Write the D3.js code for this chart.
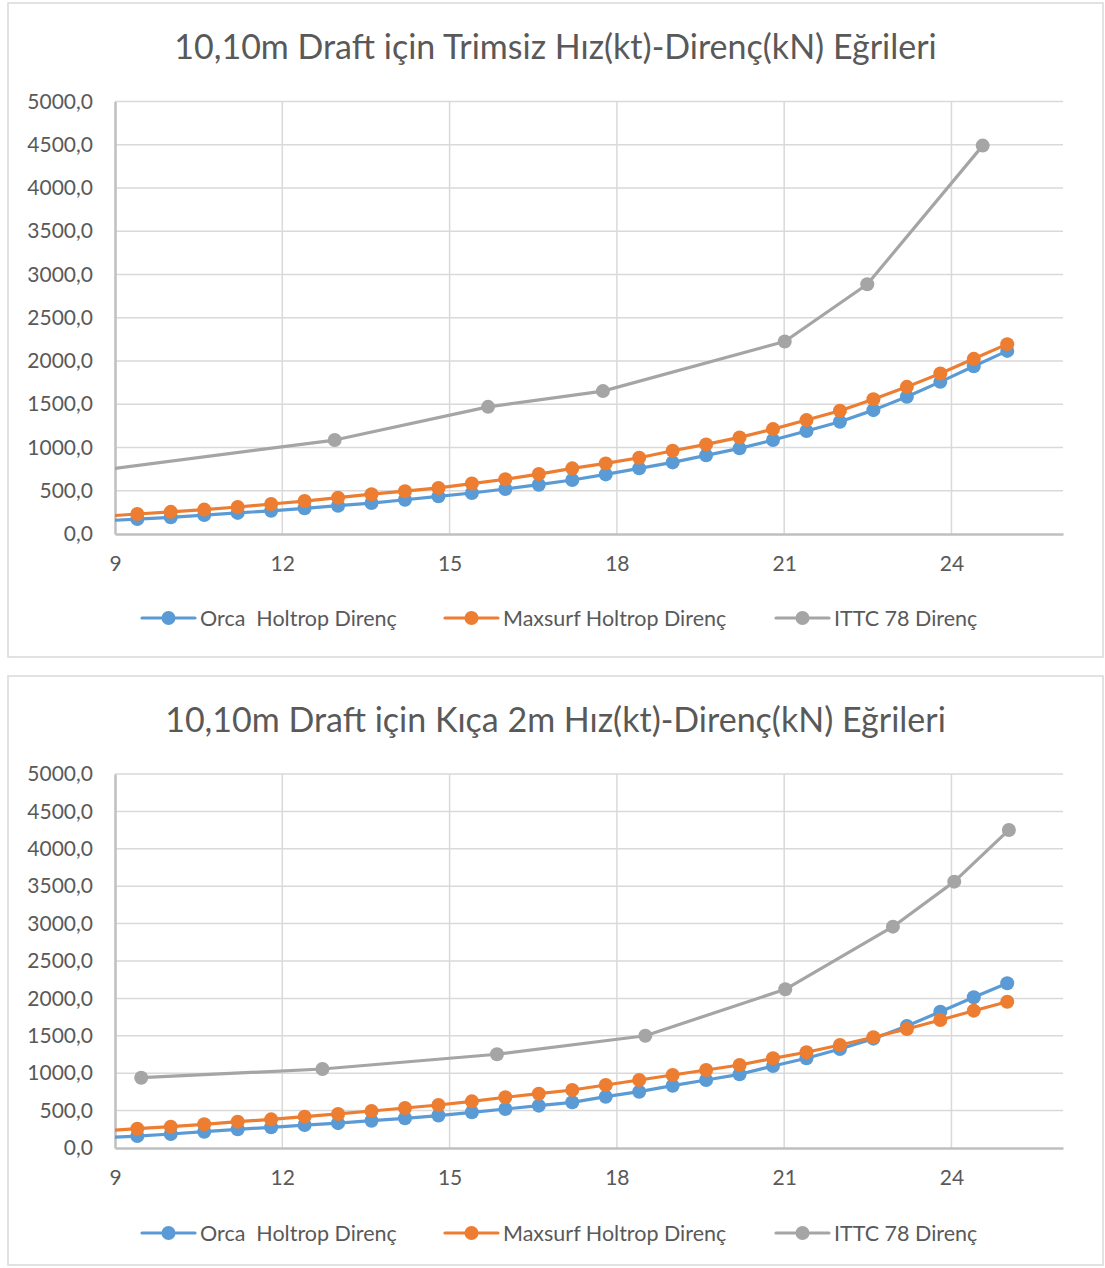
<!DOCTYPE html>
<html>
<head>
<meta charset="utf-8">
<script src="https://cdn.jsdelivr.net/npm/d3@7"></script>
<style>
  html, body { margin: 0; padding: 0; background: #ffffff; }
  svg { display: block; }
  text { font-family: Lato, "Open Sans", "Noto Sans", sans-serif; fill: #595959; white-space: pre; }
</style>
</head>
<body>
<svg id="chart" width="1105" height="1268"></svg>
<script>
// Speeds (kt) at which the Holtrop resistance was computed
const holtropSpeeds = [8.8, 9.4, 10.0, 10.6, 11.2, 11.8, 12.4, 13.0, 13.6, 14.2, 14.8, 15.4, 16.0, 16.6,
                       17.2, 17.8, 18.4, 19.0, 19.6, 20.2, 20.8, 21.4, 22.0, 22.6, 23.2, 23.8, 24.4, 25.0];

// Even keel (trimsiz) — resistance in kN
const trimsizOrca    = [152, 173, 193, 219, 244, 268, 297, 327, 358, 396, 435, 474, 520, 570,
                        624, 689, 759, 828, 909, 990, 1086, 1190, 1297, 1432, 1586, 1759, 1940, 2117];
const trimsizMaxsurf = [205, 231, 256, 282, 312, 347, 381, 420, 460, 495, 533, 583, 633, 693,
                        759, 816, 881, 962, 1036, 1117, 1213, 1317, 1424, 1559, 1701, 1856, 2025, 2195];
const trimsizIttcSpeeds = [8.5, 12.94, 15.69, 17.75, 21.01, 22.49, 24.56];
const trimsizIttc       = [717, 1086, 1470, 1652, 2226, 2887, 4490];

// 2 m trim by stern (kıça 2m) — resistance in kN
const kicaOrca    = [140, 160, 187, 218, 250, 277, 307, 332, 365, 397, 434, 477, 521, 566,
                     611, 686, 753, 833, 909, 985, 1096, 1199, 1324, 1462, 1631, 1822, 2015, 2202];
const kicaMaxsurf = [228, 258, 285, 317, 352, 383, 419, 455, 495, 535, 575, 624, 678, 726,
                     775, 842, 909, 976, 1043, 1110, 1199, 1280, 1377, 1480, 1591, 1711, 1836, 1956];
const kicaIttcSpeeds = [9.47, 12.72, 15.85, 18.51, 21.02, 22.95, 24.05, 25.03];
const kicaIttc       = [940, 1056, 1253, 1501, 2122, 2959, 3561, 4252];

// Axis ticks and labels
const xTicks = [9, 12, 15, 18, 21, 24];
const yTicks = [0, 500, 1000, 1500, 2000, 2500, 3000, 3500, 4000, 4500, 5000];
const seriesNames = ["Orca  Holtrop Direnç", "Maxsurf Holtrop Direnç", "ITTC 78 Direnç"];
const seriesColors = ["#5B9BD5", "#ED7D31", "#A5A5A5"];
const titles = [
  "10,10m Draft için Trimsiz Hız(kt)-Direnç(kN) Eğrileri",
  "10,10m Draft için Kıça 2m Hız(kt)-Direnç(kN) Eğrileri"
];

const trFormat = d3.formatLocale({ decimal: ",", thousands: ".", grouping: [3], currency: ["", "₺"] }).format(".1f");

const svg = d3.select("#chart");

function drawChart(idx, layout, series) {
  const g = svg.append("g");
  const { frame, plot } = layout;

  g.append("rect")
    .attr("x", frame.x).attr("y", frame.y)
    .attr("width", frame.w).attr("height", frame.h)
    .attr("fill", "#ffffff").attr("stroke", "#D9D9D9").attr("stroke-width", 1.5);

  g.append("text")
    .attr("x", frame.x + frame.w / 2).attr("y", layout.titleBaseline)
    .attr("text-anchor", "middle")
    .style("font-size", "34px")
    .text(titles[idx]);

  const x = d3.scaleLinear().domain([9, 26]).range([plot.left, plot.right]);
  const y = d3.scaleLinear().domain([0, 5000]).range([plot.bottom, plot.top]);

  // gridlines
  g.append("g").selectAll("line").data(yTicks.filter(v => v > 0)).join("line")
    .attr("x1", plot.left).attr("x2", plot.right)
    .attr("y1", d => y(d)).attr("y2", d => y(d))
    .attr("stroke", "#D9D9D9").attr("stroke-width", 1.5);
  g.append("g").selectAll("line").data(xTicks.filter(v => v > 9)).join("line")
    .attr("x1", d => x(d)).attr("x2", d => x(d))
    .attr("y1", plot.top).attr("y2", plot.bottom)
    .attr("stroke", "#D9D9D9").attr("stroke-width", 1.5);

  // axes
  const yAxis = g.append("g").attr("transform", `translate(${plot.left},0)`)
    .call(d3.axisLeft(y).tickValues(yTicks).tickFormat(trFormat).tickSize(0).tickPadding(22));
  const xAxis = g.append("g").attr("transform", `translate(0,${plot.bottom})`)
    .call(d3.axisBottom(x).tickValues(xTicks).tickFormat(d3.format("d")).tickSize(0).tickPadding(layout.xPad));
  [yAxis, xAxis].forEach(a => {
    a.select(".domain").attr("stroke", "#BFBFBF").attr("stroke-width", 2.5);
    a.selectAll("text").style("font-size", "21px").attr("fill", "#595959")
      .style("font-family", "Lato, 'Open Sans', sans-serif");
  });

  // data
  const clipId = "plot-clip-" + idx;
  g.append("clipPath").attr("id", clipId).append("rect")
    .attr("x", plot.left).attr("y", plot.top - 10)
    .attr("width", plot.right - plot.left + 10).attr("height", plot.bottom - plot.top + 10);

  const dataG = g.append("g").attr("clip-path", `url(#${clipId})`);
  const line = d3.line().x(d => x(d[0])).y(d => y(d[1]));

  series.forEach((s, i) => {
    const pts = s.xs.map((v, k) => [v, s.ys[k]]);
    const sg = dataG.append("g");
    sg.append("path").datum(pts)
      .attr("d", line).attr("fill", "none")
      .attr("stroke", seriesColors[i]).attr("stroke-width", 3.2)
      .attr("stroke-linejoin", "round").attr("stroke-linecap", "round");
    sg.selectAll("circle").data(pts).join("circle")
      .attr("cx", d => x(d[0])).attr("cy", d => y(d[1])).attr("r", 7)
      .attr("fill", seriesColors[i]);
  });

  // legend
  const legendX = [142, 445, 776];
  const lg = g.append("g").attr("transform", `translate(0,${layout.legendY})`);
  seriesNames.forEach((name, i) => {
    const item = lg.append("g").attr("transform", `translate(${legendX[i]},0)`);
    item.append("line").attr("x1", 0).attr("x2", 53).attr("y1", 0).attr("y2", 0)
      .attr("stroke", seriesColors[i]).attr("stroke-width", 3.2).attr("stroke-linecap", "round");
    item.append("circle").attr("cx", 26.5).attr("cy", 0).attr("r", 7).attr("fill", seriesColors[i]);
    item.append("text").attr("x", 58).attr("y", 0).attr("dy", "0.35em")
      .style("font-size", "21.5px").text(name);
  });
}

drawChart(0, {
  frame: { x: 8, y: 3, w: 1095, h: 654 },
  plot: { left: 115, right: 1063, top: 101.5, bottom: 534 },
  titleBaseline: 59, xPad: 22, legendY: 618
}, [
  { xs: holtropSpeeds, ys: trimsizOrca },
  { xs: holtropSpeeds, ys: trimsizMaxsurf },
  { xs: trimsizIttcSpeeds, ys: trimsizIttc }
]);

drawChart(1, {
  frame: { x: 8, y: 676, w: 1095, h: 589 },
  plot: { left: 115, right: 1063, top: 774, bottom: 1148 },
  titleBaseline: 732, xPad: 22, legendY: 1233
}, [
  { xs: holtropSpeeds, ys: kicaOrca },
  { xs: holtropSpeeds, ys: kicaMaxsurf },
  { xs: kicaIttcSpeeds, ys: kicaIttc }
]);
</script>
</body>
</html>
